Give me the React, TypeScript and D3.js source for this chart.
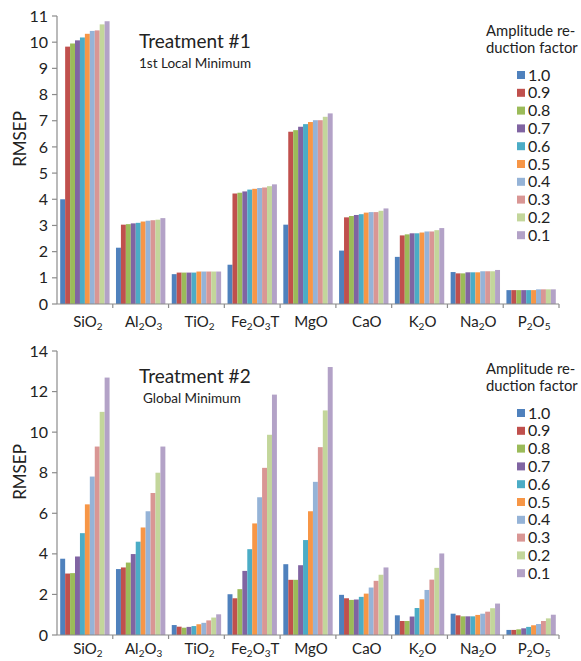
import React from 'react';
import * as d3 from 'd3';

// oxides on the x axis (digits are drawn as subscripts)
const categories = ['SiO2', 'Al2O3', 'TiO2', 'Fe2O3T', 'MgO', 'CaO', 'K2O', 'Na2O', 'P2O5'];
// amplitude reduction factors, one bar each
const factors = ['1.0', '0.9', '0.8', '0.7', '0.6', '0.5', '0.4', '0.3', '0.2', '0.1'];
const colors = ['#4F81BD', '#C0504D', '#9BBB59', '#8064A2', '#4BACC6', '#F79646', '#95B3D7', '#D99694', '#C3D69B', '#B3A2C7'];

// Treatment #1, 1st local minimum: RMSEP per oxide, factors 1.0 -> 0.1
const t1SiO2 = [4.0, 9.83, 9.95, 10.07, 10.18, 10.32, 10.43, 10.45, 10.68, 10.8];
const t1Al2O3 = [2.15, 3.03, 3.05, 3.08, 3.1, 3.15, 3.18, 3.2, 3.22, 3.28];
const t1TiO2 = [1.14, 1.2, 1.2, 1.2, 1.2, 1.24, 1.24, 1.24, 1.24, 1.24];
const t1Fe2O3T = [1.5, 4.22, 4.25, 4.3, 4.37, 4.4, 4.43, 4.45, 4.5, 4.57];
const t1MgO = [3.03, 6.58, 6.64, 6.77, 6.87, 6.95, 7.02, 7.02, 7.15, 7.28];
const t1CaO = [2.04, 3.31, 3.36, 3.4, 3.43, 3.49, 3.51, 3.51, 3.56, 3.65];
const t1K2O = [1.8, 2.62, 2.66, 2.7, 2.7, 2.73, 2.77, 2.77, 2.82, 2.9];
const t1Na2O = [1.22, 1.17, 1.17, 1.21, 1.21, 1.21, 1.25, 1.25, 1.25, 1.3];
const t1P2O5 = [0.53, 0.53, 0.53, 0.53, 0.53, 0.53, 0.56, 0.56, 0.56, 0.56];

// Treatment #2, global minimum
const t2SiO2 = [3.76, 3.03, 3.05, 3.87, 5.02, 6.44, 7.81, 9.29, 11.0, 12.69];
const t2Al2O3 = [3.25, 3.33, 3.57, 3.99, 4.6, 5.3, 6.1, 7.0, 8.0, 9.29];
const t2TiO2 = [0.49, 0.41, 0.36, 0.4, 0.44, 0.53, 0.6, 0.72, 0.86, 1.02];
const t2Fe2O3T = [2.01, 1.81, 2.26, 3.16, 4.23, 5.5, 6.79, 8.24, 9.87, 11.85];
const t2MgO = [3.49, 2.72, 2.72, 3.44, 4.68, 6.1, 7.55, 9.26, 11.07, 13.21];
const t2CaO = [1.98, 1.81, 1.73, 1.75, 1.88, 2.04, 2.34, 2.67, 2.97, 3.33];
const t2K2O = [0.97, 0.69, 0.69, 0.91, 1.33, 1.76, 2.22, 2.73, 3.31, 4.02];
const t2Na2O = [1.05, 0.97, 0.92, 0.92, 0.92, 0.99, 1.05, 1.15, 1.32, 1.55];
const t2P2O5 = [0.25, 0.25, 0.28, 0.33, 0.4, 0.48, 0.54, 0.69, 0.82, 1.0];

const treatment1 = [t1SiO2, t1Al2O3, t1TiO2, t1Fe2O3T, t1MgO, t1CaO, t1K2O, t1Na2O, t1P2O5];
const treatment2 = [t2SiO2, t2Al2O3, t2TiO2, t2Fe2O3T, t2MgO, t2CaO, t2K2O, t2Na2O, t2P2O5];

const ticks1 = d3.range(0, 12, 1);
const ticks2 = d3.range(0, 15, 2);

const FONT = 'Lato, "Open Sans", sans-serif';
const AXIS = '#8c8c8c';
const X0 = 57;
const X1 = 559;

// split "Fe2O3T" into parts, digits become subscripts
function Formula({ name }: { name: string }) {
  const parts = name.match(/\d+|\D+/g) || [];
  return (
    <>
      {parts.map((p, i) =>
        /\d/.test(p) ? (
          <tspan key={i} fontSize={10} dy={3}>{p}</tspan>
        ) : (
          <tspan key={i} dy={i > 0 && /\d/.test(parts[i - 1]) ? -3 : 0}>{p}</tspan>
        )
      )}
    </>
  );
}

type PanelProps = {
  values: number[][];
  ticks: number[];
  yMax: number;
  top: number;
  bottom: number;
  labelOffset: number;
  title: string;
  subtitle: string;
  subX: number;
  legendTop: number;
};

function Panel({ values, ticks, yMax, top, bottom, labelOffset, title, subtitle, subX, legendTop }: PanelProps) {
  const x = d3.scaleBand().domain(categories).range([X0, X1]).padding(0);
  const xi = d3.scaleBand().domain(factors).range([0, x.bandwidth()]).paddingInner(0).paddingOuter(0.65);
  const y = d3.scaleLinear().domain([0, yMax]).range([bottom, top]);

  return (
    <g fontFamily={FONT}>
      {/* bars */}
      {categories.map((c, ci) => (
        <g key={c} transform={`translate(${x(c)},0)`}>
          {values[ci].map((v, fi) => (
            <rect
              key={fi}
              x={xi(factors[fi])}
              y={y(v)}
              width={xi.bandwidth()}
              height={y(0) - y(v)}
              fill={colors[fi]}
            />
          ))}
        </g>
      ))}

      {/* y axis */}
      <line x1={X0} x2={X0} y1={top} y2={bottom} stroke={AXIS} strokeWidth={1.2} />
      {ticks.map(t => (
        <g key={t}>
          <line x1={X0 - 5} x2={X0} y1={y(t)} y2={y(t)} stroke={AXIS} strokeWidth={1.2} />
          <text x={X0 - 9} y={y(t)} dy="0.35em" textAnchor="end" fontSize={16} fill="#222">{t}</text>
        </g>
      ))}
      <text
        transform={`translate(20,${(top + bottom) / 2 - 21}) rotate(-90)`}
        textAnchor="middle"
        dy="0.35em"
        fontSize={17}
        fill="#222"
      >RMSEP</text>

      {/* x axis */}
      <line x1={X0} x2={X1} y1={bottom} y2={bottom} stroke={AXIS} strokeWidth={1.2} />
      {categories.map(c => (
        <line key={c} x1={x(c)! + x.bandwidth()} x2={x(c)! + x.bandwidth()} y1={bottom} y2={bottom + 4} stroke={AXIS} strokeWidth={1.2} />
      ))}
      {categories.map(c => (
        <text key={c} x={x(c)! + x.bandwidth() / 2 + 3} y={bottom + labelOffset} textAnchor="middle" fontSize={15} fill="#222">
          <Formula name={c} />
        </text>
      ))}

      {/* titles */}
      <text x={139} y={top + 32} fontSize={19} fill="#222">{title}</text>
      <text x={subX} y={top + 52} fontSize={13.5} fill="#222">{subtitle}</text>

      {/* legend */}
      <text x={486} y={legendTop} fontSize={14.8} fill="#222">Amplitude re-</text>
      <text x={486} y={legendTop + 17} fontSize={14.8} fill="#222">duction factor</text>
      {factors.map((f, i) => {
        const cy = legendTop + 39 + i * 17.8;
        return (
          <g key={f}>
            <rect x={517} y={cy - 4} width={8} height={8} fill={colors[i]} />
            <text x={528} y={cy} dy="0.35em" fontSize={16} fill="#222">{f}</text>
          </g>
        );
      })}
    </g>
  );
}

export default function App() {
  return (
    <svg
      width={581}
      height={661}
      viewBox="0 0 581 661"
      style={{ position: 'absolute', left: 0, top: 0, background: '#fff' }}
    >
      <rect width={581} height={661} fill="#fff" />
      <Panel
        values={treatment1}
        ticks={ticks1}
        yMax={11}
        top={16}
        bottom={304}
        labelOffset={23}
        title="Treatment #1"
        subtitle="1st Local Minimum"
        subX={139}
        legendTop={36}
      />
      <Panel
        values={treatment2}
        ticks={ticks2}
        yMax={14}
        top={351}
        bottom={635}
        labelOffset={19}
        title="Treatment #2"
        subtitle="Global Minimum"
        subX={143}
        legendTop={374}
      />
    </svg>
  );
}
